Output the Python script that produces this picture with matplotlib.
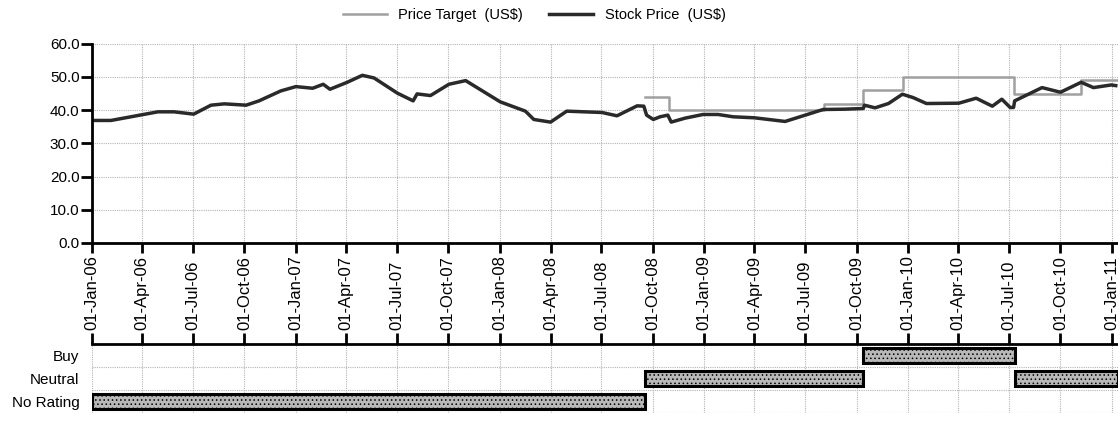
import matplotlib
matplotlib.use("Agg")
import matplotlib.pyplot as plt
import matplotlib.dates as mdates
import pandas as pd

plt.rcParams['font.family'] = ['Liberation Sans', 'DejaVu Sans']
plt.rcParams['hatch.color'] = "#8c8c8c"
plt.rcParams['hatch.linewidth'] = 0.6

# Daily closing price, sampled at turning points
price_dates = ["2006-01-01", "2006-02-04", "2006-04-29", "2006-05-28", "2006-07-02",
               "2006-08-02", "2006-08-26", "2006-10-04", "2006-10-27", "2006-12-05",
               "2007-01-01", "2007-01-31", "2007-02-19", "2007-03-03", "2007-04-03",
               "2007-04-30", "2007-05-21", "2007-07-02", "2007-07-30", "2007-08-06",
               "2007-08-30", "2007-10-02", "2007-11-01", "2008-01-02", "2008-02-16",
               "2008-03-02", "2008-04-01", "2008-04-30", "2008-07-02", "2008-07-29",
               "2008-09-03", "2008-09-15", "2008-09-20", "2008-10-02", "2008-10-14",
               "2008-10-28", "2008-11-03", "2008-11-28", "2008-12-30", "2009-01-26",
               "2009-02-22", "2009-04-01", "2009-05-26", "2009-07-01", "2009-08-02",
               "2009-09-10", "2009-10-13", "2009-10-15", "2009-11-03", "2009-11-27",
               "2009-12-22", "2010-01-10", "2010-02-03", "2010-04-02", "2010-05-03",
               "2010-06-01", "2010-06-18", "2010-07-03", "2010-07-09", "2010-07-11",
               "2010-08-29", "2010-10-01", "2010-11-07", "2010-11-29", "2010-12-31",
               "2011-01-08"]
price_values = [36.9, 36.9, 39.5, 39.5, 38.8,
                41.5, 41.9, 41.5, 42.8, 45.8,
                47.1, 46.6, 47.8, 46.3, 48.4,
                50.5, 49.7, 45.1, 42.8, 44.9,
                44.4, 47.8, 48.9, 42.5, 39.7,
                37.2, 36.4, 39.7, 39.3, 38.3,
                41.3, 41.2, 38.5, 37.2, 38.0,
                38.5, 36.4, 37.6, 38.7, 38.7,
                38.0, 37.7, 36.6, 38.5, 40.2,
                40.3, 40.5, 41.5, 40.7, 42.0,
                44.8, 43.8, 42.0, 42.1, 43.6,
                41.2, 43.3, 40.8, 40.8, 42.8,
                46.8, 45.4, 48.4, 46.8, 47.6,
                47.4]

# Analyst price target changes
target_dates = ["2008-09-17", "2008-10-30", "2009-08-04", "2009-10-12",
                "2009-12-23", "2010-07-10", "2010-11-06", "2011-01-12"]
target_values = [44, 40, 42, 46, 50, 45, 49, 49]

# Rating history
rating_levels = ["Buy", "Neutral", "No Rating"]
rating_start = ["2006-01-01", "2008-09-17", "2009-10-13", "2010-07-11"]
rating_end = ["2008-09-17", "2009-10-13", "2010-07-11", "2011-01-12"]
rating_name = ["No Rating", "Neutral", "Buy", "Neutral"]

x_min = pd.Timestamp("2006-01-01")
x_max = pd.Timestamp("2011-01-12")

fig = plt.figure(figsize=(11.18, 4.21), dpi=100)
ax = fig.add_axes([0.0823, 0.423, 0.9177, 0.473])
ax2 = fig.add_axes([0.0823, 0.019, 0.9177, 0.164])

grid_kw = dict(color="#b4b4b4", linestyle=(0, (1, 1)), linewidth=0.8)

# price chart
ax.plot(pd.to_datetime(target_dates), target_values, drawstyle="steps-post",
        color="#a0a0a0", linewidth=1.8, label="Price Target  (US$)")
ax.plot(pd.to_datetime(price_dates), price_values, color="#2a2a2a",
        linewidth=2.5, label="Stock Price  (US$)")
ax.set_ylim(0, 60)
ax.set_xlim(x_min, x_max)
ax.set_yticks(range(0, 61, 10))
ax.set_yticklabels([f"{v:.1f}" for v in range(0, 61, 10)], fontsize=11)
ax.xaxis.set_major_locator(mdates.MonthLocator(bymonth=[1, 4, 7, 10]))
ax.tick_params(axis="x", labelbottom=False, direction="out", length=7, width=2)
ax.tick_params(axis="y", direction="out", length=8, width=2, pad=1)
ax.grid(True, **grid_kw)
for s in ["top", "right"]:
    ax.spines[s].set_visible(False)
for s in ["left", "bottom"]:
    ax.spines[s].set_linewidth(2)
ax.set_axisbelow(True)

fig.legend(loc="center", bbox_to_anchor=(0.478, 0.965), ncol=2, frameon=False,
           fontsize=10.5, handlelength=3.0, handletextpad=0.8, columnspacing=1.8)

# rating bars
row_pos = {name: i for i, name in enumerate(reversed(rating_levels))}
for start, end, name in zip(rating_start, rating_end, rating_name):
    left = mdates.date2num(pd.Timestamp(start))
    width = mdates.date2num(pd.Timestamp(end)) - left
    ax2.barh(row_pos[name] + 0.5, width, left=left, height=0.62,
             color="#b8b8b8", edgecolor="black", linewidth=2.2, hatch="....")

ax2.set_xlim(x_min, x_max)
ax2.set_ylim(0, 3)
ax2.set_yticks([row_pos[n] + 0.5 for n in rating_levels])
ax2.set_yticklabels(rating_levels, fontsize=11)
ax2.yaxis.set_minor_locator(plt.FixedLocator([0, 1, 2, 3]))
ax2.xaxis.set_major_locator(mdates.MonthLocator(bymonth=[1, 4, 7, 10]))
ax2.xaxis.set_major_formatter(mdates.DateFormatter("%d-%b-%y"))
ax2.xaxis.tick_top()
ax2.tick_params(axis="x", direction="out", length=8, width=2, labelsize=12,
                labelrotation=90, pad=2)
ax2.tick_params(axis="y", length=0, pad=9)
ax2.tick_params(axis="y", which="minor", length=0)
ax2.grid(True, axis="x", **grid_kw)
ax2.grid(True, axis="y", which="minor", **grid_kw)
for s in ["left", "right", "bottom"]:
    ax2.spines[s].set_visible(False)
ax2.spines["top"].set_linewidth(2)
ax2.set_axisbelow(True)

fig.savefig("out.png", dpi=100)
